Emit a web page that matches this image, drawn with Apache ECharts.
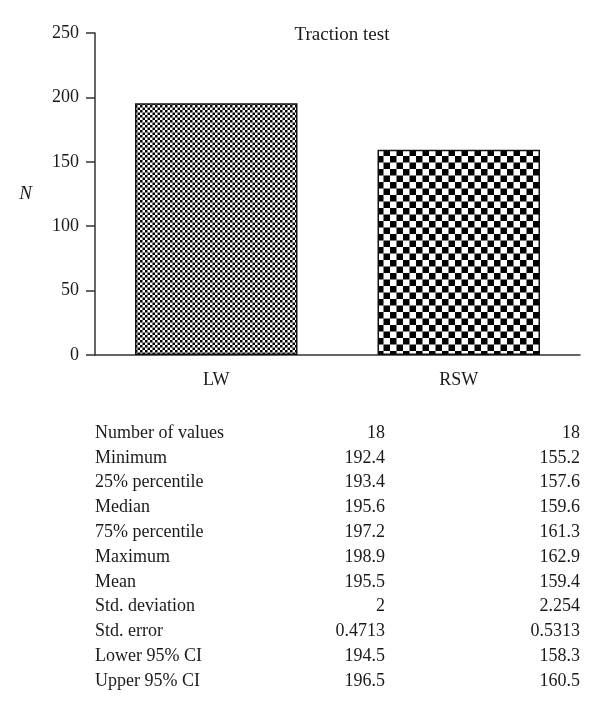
<!DOCTYPE html>
<html><head><meta charset="utf-8">
<script src="https://cdn.jsdelivr.net/npm/echarts@6/dist/echarts.min.js"></script>
<style>html,body{margin:0;padding:0;background:#fff}#c{width:600px;height:714px}</style>
</head><body><div id="c"></div>
<script>
const title = 'Traction test';
const categories = ['LW', 'RSW'];
const means = [195.5, 159.4];
const yTicks = [0, 50, 100, 150, 200, 250];
const statLabels = ['Number of values','Minimum','25% percentile','Median','75% percentile','Maximum','Mean','Std. deviation','Std. error','Lower 95% CI','Upper 95% CI'];
const statLW = ['18','192.4','193.4','195.6','197.2','198.9','195.5','2','0.4713','194.5','196.5'];
const statRSW = ['18','155.2','157.6','159.6','161.3','162.9','159.4','2.254','0.5313','158.3','160.5'];

function checker(cell){
  const n = Math.round(cell*2);
  const c = document.createElement('canvas');
  c.width = n; c.height = n;
  const g = c.getContext('2d');
  g.fillStyle = '#fff'; g.fillRect(0,0,n,n);
  g.fillStyle = '#000';
  const h = n/2;
  g.fillRect(0,0,h,h); g.fillRect(h,h,n-h,n-h);
  return c;
}
const patterns = [checker(2.7), checker(6.5)];

const font = '"Liberation Serif", "DejaVu Serif", serif';
const fs = 18;
const chart = echarts.init(document.getElementById('c'));
const graphics = [];
const rowY0 = 433, rowStep = 24.8;
statLabels.forEach((s,i)=>{
  const y = rowY0 + i*rowStep;
  graphics.push({type:'text', x:95, y:y, style:{text:s, font:fs+'px '+font, fill:'#1a1a1a', align:'left', verticalAlign:'middle'}});
  graphics.push({type:'text', x:385, y:y, style:{text:statLW[i], font:fs+'px '+font, fill:'#1a1a1a', align:'right', verticalAlign:'middle'}});
  graphics.push({type:'text', x:580, y:y, style:{text:statRSW[i], font:fs+'px '+font, fill:'#1a1a1a', align:'right', verticalAlign:'middle'}});
});
chart.setOption({
  animation:false,
  title:{text:title, left:337, textAlign:'center', top:21, textStyle:{fontFamily:font, fontSize:19, fontWeight:'normal', color:'#1a1a1a'}},
  grid:{left:95, right:20, top:33, bottom:359, containLabel:false},
  xAxis:{type:'category', data:categories,
    axisLine:{lineStyle:{color:'#333', width:1.5}},
    axisTick:{alignWithLabel:true, length:8, lineStyle:{color:'#333', width:1.5}},
    axisLabel:{fontFamily:font, fontSize:fs, color:'#1a1a1a', margin:16}},
  yAxis:{type:'value', min:yTicks[0], max:yTicks[yTicks.length-1], interval:50,
    name:'N', nameLocation:'middle', nameGap:63, nameRotate:0,
    nameTextStyle:{fontFamily:font, fontSize:19, fontStyle:'italic', color:'#1a1a1a'},
    splitLine:{show:false},
    axisLine:{show:true, lineStyle:{color:'#333', width:1.5}},
    axisTick:{show:true, length:9, lineStyle:{color:'#333', width:1.5}},
    axisLabel:{fontFamily:font, fontSize:fs, color:'#1a1a1a', margin:16}},
  series:[{type:'bar', barWidth:'67%',
    data: means.map((v,i)=>({value:v, itemStyle:{color:{image:patterns[i], repeat:'repeat'}, borderColor:'#111', borderWidth:1.5}}))}],
  graphic: graphics
});
</script></body></html>
